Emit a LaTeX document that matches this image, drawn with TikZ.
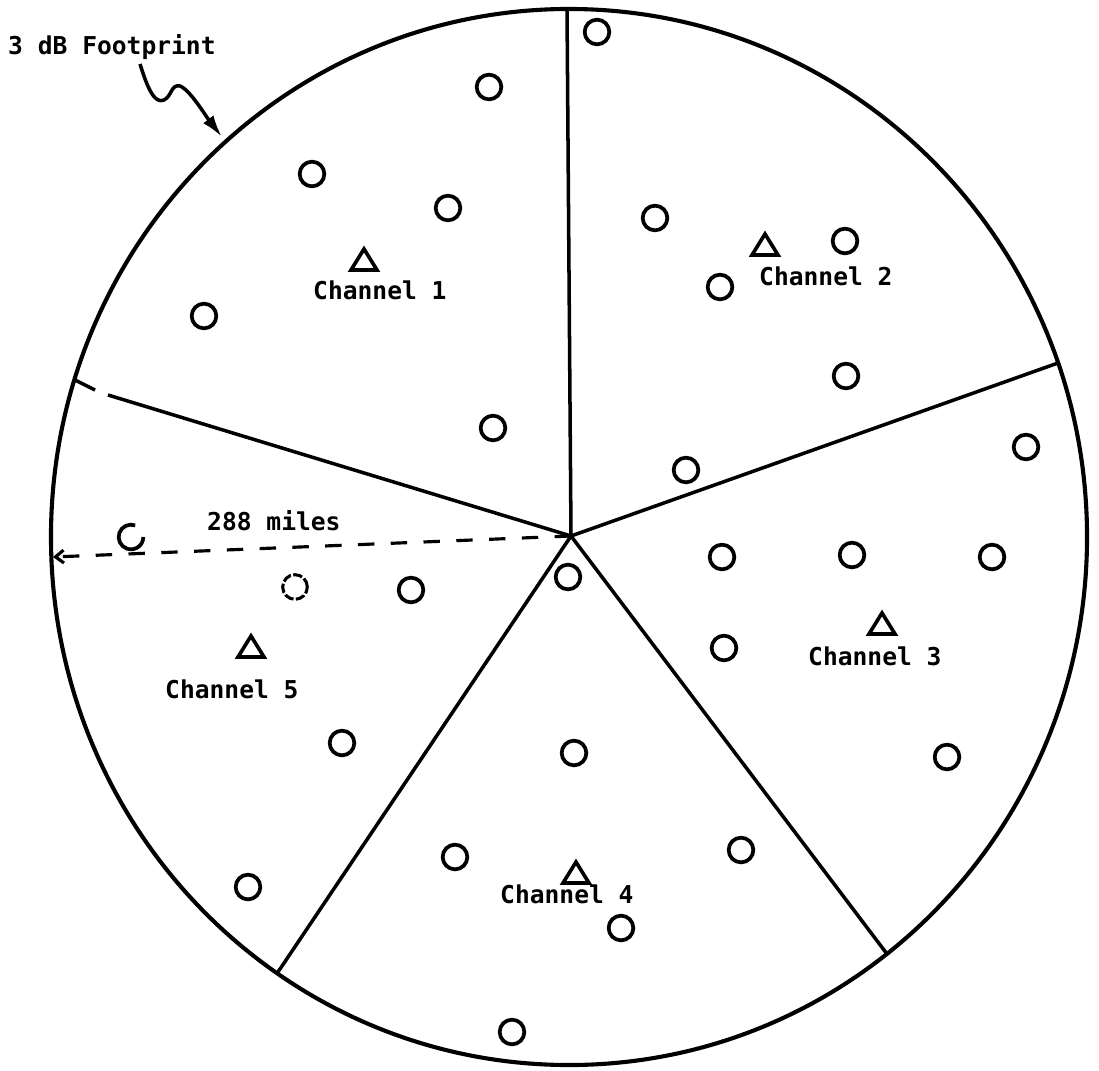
\documentclass[tikz,border=0pt]{standalone}
\usepackage{fontspec}
\setmonofont{DejaVu Sans Mono}
\usetikzlibrary{arrows.meta}
\begin{document}
\begin{tikzpicture}[x=0.03cm,y=-0.03cm,
  lbl/.style={font=\ttfamily\bfseries\fontsize{21}{25}\selectfont, inner sep=0pt, anchor=base west},
  site/.style={circle, draw, line width=3.2pt, minimum size=0.74cm, inner sep=0pt},
  tri/.style={line width=3.1pt, line join=miter},
  spoke/.style={line width=3pt},
  rim/.style={line width=3.5pt}]
\useasboundingbox (0,0) rectangle (1099,1070);

% footprint circle
\draw[rim] (569,537) ellipse [x radius=15.54cm, y radius=15.84cm];

% center and spoke ends
\coordinate (c) at (571,536);
\coordinate (e1) at (567,9);
\coordinate (e2) at (1058,363);
\coordinate (e3) at (887,954);
\coordinate (e4) at (278,972);
\coordinate (e5) at (75,380);
\coordinate (e5a) at (95,390);
\coordinate (e5b) at (108,395);

\draw[spoke] (c) -- (e1);
\draw[spoke] (c) -- (e2);
\draw[spoke] (c) -- (e3);
\draw[spoke] (c) -- (e4);
\draw[spoke] (c) -- (e5b);
\draw[spoke] (e5) -- (e5a);

% labels
\node[lbl] (fp) at (8,55) {3 dB Footprint};
\node[lbl] (ch1) at (313,299) {Channel 1};
\node[lbl] (ch2) at (759,285) {Channel 2};
\node[lbl] (ch3) at (808,665) {Channel 3};
\node[lbl] (ch4) at (500,903) {Channel 4};
\node[lbl] (ch5) at (165,698) {Channel 5};
\node[lbl] (mi) at (207,530) {288 miles};

% wavy arrow to footprint
\coordinate (w0) at (140,64);
\coordinate (w1) at (222,137);
\draw[line width=3pt, -{Latex[length=19pt,width=11pt]}]
  (w0) .. controls (148,90) and (155,104) .. (164,100)
       .. controls (172,96) and (171,84) .. (180,86)
       .. controls (190,90) and (205,115) .. (w1);

% radius arrow
\coordinate (rl) at (53,557);
\draw[line width=2.7pt, dash pattern=on 14pt off 14pt, -{Straight Barb[length=7pt,width=11pt]}] (c) -- (rl);

% triangles (base stations)
\coordinate (t1) at (364,260);
\coordinate (t2) at (765,245);
\coordinate (t3) at (882,624);
\coordinate (t4) at (576,873);
\coordinate (t5) at (251,647);
\foreach \t in {t1,t2,t3,t4,t5}
  \draw[tri, shift={(\t)}] (-13,10) -- (0,-11) -- (13,10) -- cycle;

% sites
\node[site] (s1) at (489,87) {};
\node[site] (s2) at (312,174) {};
\node[site] (s3) at (448,208) {};
\node[site] (s4) at (204,316) {};
\node[site] (s5) at (493,428) {};
\node[site] (s6) at (597,32) {};
\node[site] (s7) at (655,218) {};
\node[site] (s8) at (845,241) {};
\node[site] (s9) at (720,287) {};
\node[site] (s10) at (846,376) {};
\node[site] (s11) at (686,470) {};
\node[site] (s12) at (1026,447) {};
\node[site] (s13) at (722,557) {};
\node[site] (s14) at (852,555) {};
\node[site] (s15) at (992,557) {};
\node[site] (s16) at (724,648) {};
\node[site] (s17) at (947,757) {};
\node[site] (s18) at (568,577) {};
\node[site] (s19) at (574,753) {};
\node[site] (s20) at (455,857) {};
\node[site] (s21) at (741,850) {};
\node[site] (s22) at (621,928) {};
\node[site] (s23) at (512,1032) {};
\node[site] (s26) at (411,590) {};
\node[site] (s27) at (342,743) {};
\node[site] (s28) at (248,887) {};
\node[site, line width=2.6pt, dash pattern=on 8pt off 2pt] (s25) at (295,587) {};
\coordinate (s24) at (131,537);
\draw[line width=3.2pt] ([shift={(70:0.37cm)}]s24) arc[start angle=70, end angle=360, radius=0.37cm];
\end{tikzpicture}
\end{document}
